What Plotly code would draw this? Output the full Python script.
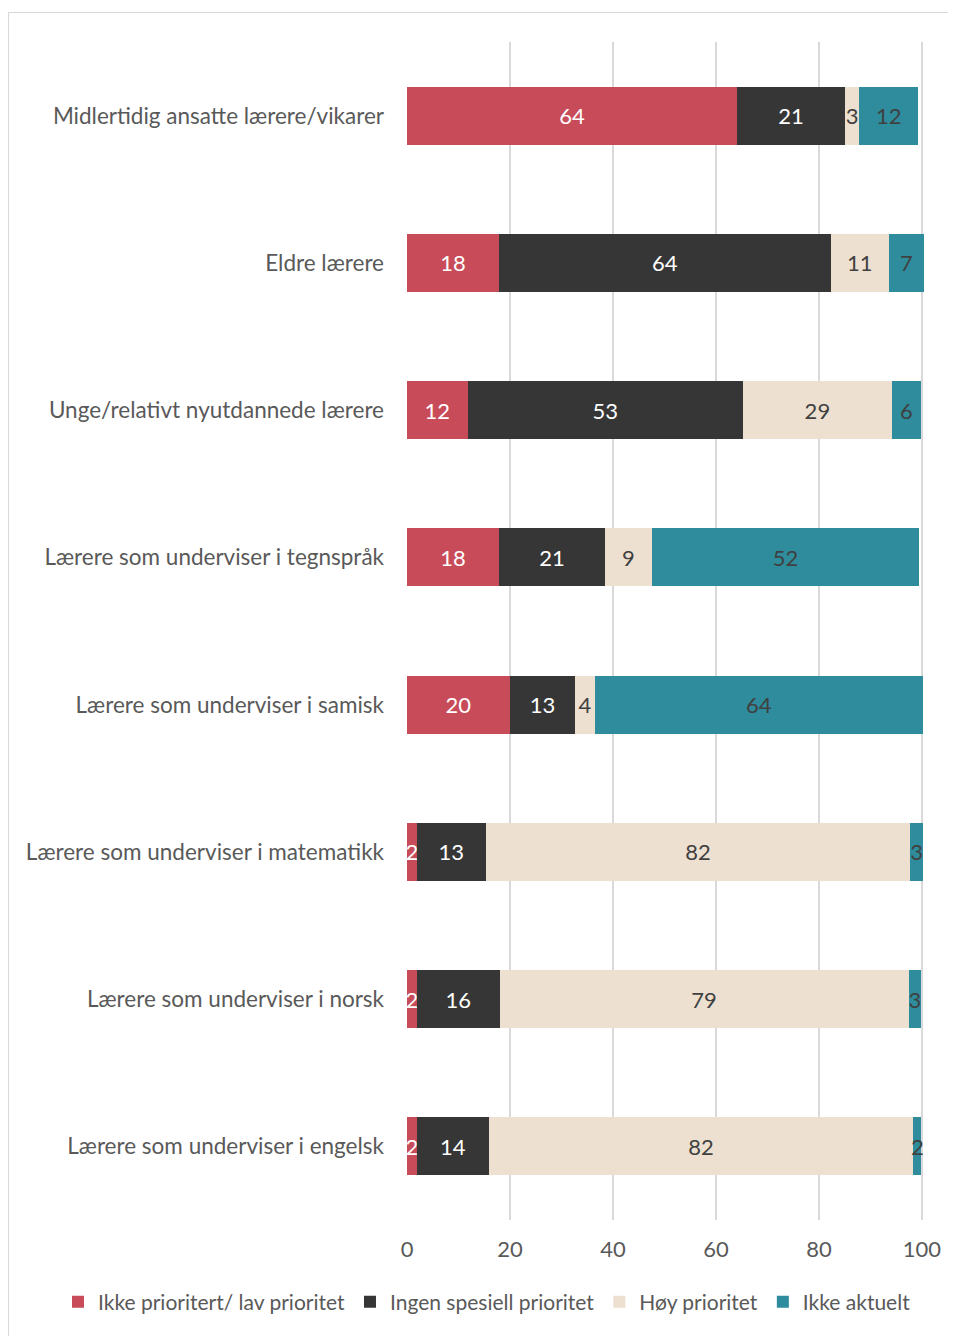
import plotly.graph_objects as go

categories = [
    "Midlertidig ansatte lærere/vikarer",
    "Eldre lærere",
    "Unge/relativt nyutdannede lærere",
    "Lærere som underviser i tegnspråk",
    "Lærere som underviser i samisk",
    "Lærere som underviser i matematikk",
    "Lærere som underviser i norsk",
    "Lærere som underviser i engelsk",
]
series_names = ["Ikke prioritert/ lav prioritet", "Ingen spesiell prioritet", "Høy prioritet", "Ikke aktuelt"]
ikke_prioritert = [64.1, 17.9, 11.8, 17.9, 20.0, 1.9, 1.9, 1.9]
ingen_spesiell = [21.0, 64.4, 53.4, 20.5, 12.6, 13.4, 16.1, 14.0]
hoy_prioritet = [2.7, 11.3, 29.0, 9.2, 3.9, 82.4, 79.4, 82.4]
ikke_aktuelt = [11.5, 6.8, 5.6, 51.8, 63.7, 2.5, 2.5, 1.6]
tick_values = [0, 20, 40, 60, 80, 100]

colors = ["#C84B5A", "#363636", "#EDE0D0", "#2E8C9C"]
text_colors = ["#FFFFFF", "#FFFFFF", "#404040", "#404040"]
FONT = "Lato"

fig = go.Figure()
for name, vals, col, tcol in zip(series_names, [ikke_prioritert, ingen_spesiell, hoy_prioritet, ikke_aktuelt], colors, text_colors):
    fig.add_trace(go.Bar(
        y=categories, x=vals, name=name, orientation="h",
        marker=dict(color=col, line=dict(width=0)),
        texttemplate="%{x:.0f}", textposition="inside", insidetextanchor="middle",
        textangle=0, constraintext="none",
        textfont=dict(family=FONT, size=22, color=tcol),
        width=0.395,
    ))

# page has an 8px body margin: figure coords = page coords - 8
OFF = 8
W, H = 956 - OFF, 1336 - OFF
left, right_px, top, bottom_px = 407 - OFF, 925 - OFF, 42 - OFF, 1220 - OFF
pw = right_px - left
ph = bottom_px - top

def px2x(px):
    return (px - OFF - left) / pw

def py2y(py):
    return 1 - (py - OFF - top) / ph

fig.update_layout(
    barmode="stack",
    width=W, height=H,
    margin=dict(l=left, r=W - right_px, t=top, b=H - bottom_px, autoexpand=False),
    paper_bgcolor="white", plot_bgcolor="white",
    font=dict(family=FONT, size=22, color="#595959"),
    xaxis=dict(range=[0, 100.6], tickvals=tick_values, showgrid=True, gridcolor="#D9D9D9", gridwidth=2,
               zeroline=False, showline=False, ticks="", tickfont=dict(size=22, color="#595959"),
               ticklabelstandoff=14, fixedrange=True),
    yaxis=dict(autorange="reversed", showgrid=False, zeroline=False, showline=False, ticks="",
               tickfont=dict(size=22.5, color="#595959"), ticklabelstandoff=22, fixedrange=True),
    legend=dict(orientation="h", x=px2x(58), xanchor="left", y=py2y(1302), yanchor="middle",
                font=dict(size=21, color="#595959"), traceorder="normal",
                itemwidth=30, tracegroupgap=0),
    showlegend=True,
)

fig.add_shape(type="rect", xref="paper", yref="paper",
              x0=px2x(8.5), x1=px2x(975), y0=py2y(1350), y1=py2y(12.5),
              line=dict(color="#D9D9D9", width=1.2), fillcolor="rgba(0,0,0,0)", layer="below")

fig.write_html("out.html")
